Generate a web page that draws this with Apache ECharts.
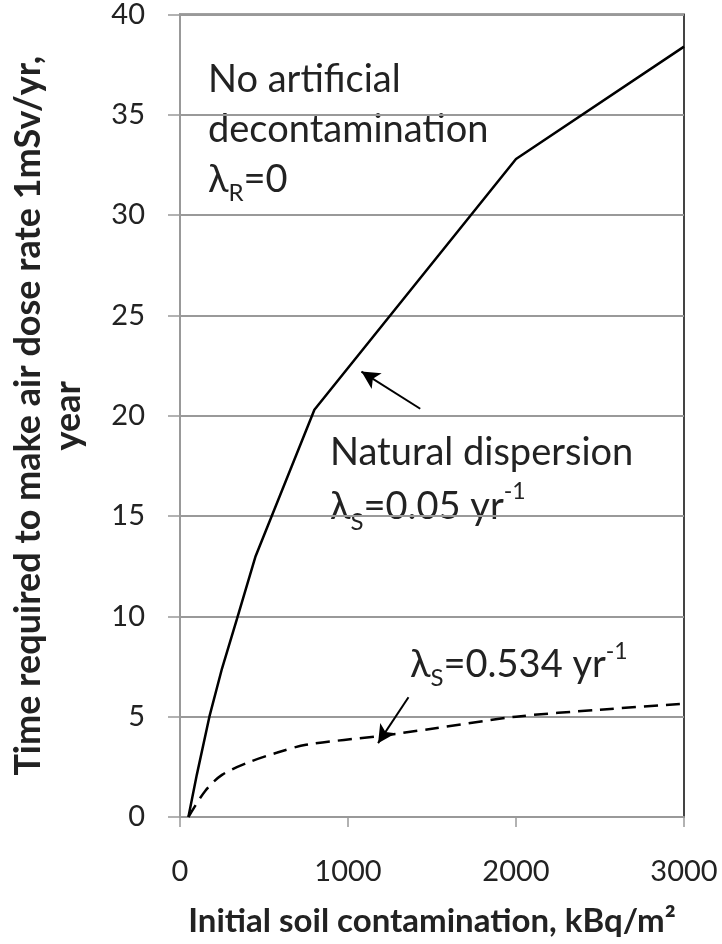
<!DOCTYPE html>
<html>
<head>
<meta charset="utf-8">
<script src="https://cdn.jsdelivr.net/npm/echarts@6/dist/echarts.min.js"></script>
<style>
  html, body { margin: 0; padding: 0; background: #fff; }
  #chart { width: 722px; height: 944px; }
</style>
</head>
<body>
<div id="chart"></div>
<script>
// x = initial soil contamination (kBq/m2), y = years
const naturalX = [50, 100, 175, 250, 340, 450, 800, 2000, 3000];
const naturalY = [0, 2.1, 5.0, 7.4, 9.9, 13.0, 20.3, 32.8, 38.4];

const fastX = [50, 150, 250, 400, 575, 750, 1200, 1500, 2000, 2500, 3000];
const fastY = [0, 1.3, 2.1, 2.7, 3.2, 3.6, 4.05, 4.4, 5.0, 5.35, 5.65];

const xTicks = [0, 1000, 2000, 3000];
const yTicks = [0, 5, 10, 15, 20, 25, 30, 35, 40];

// arrows: [tail, tip] in data units
const arrowNatural = [[1430, 20.35], [1080, 22.2]];
const arrowFast = [[1360, 5.97], [1179, 3.68]];

const FONT = 'Lato';
const TXT = '#222';

function pairs(xs, ys) {
    return xs.map((x, i) => [x, ys[i]]);
}

const chart = echarts.init(document.getElementById('chart'), null, { renderer: 'canvas' });

const richStyles = {
    sub: { fontFamily: FONT, fontSize: 24, lineHeight: 16, verticalAlign: 'bottom', fill: TXT, color: TXT },
    sup: { fontFamily: FONT, fontSize: 23, lineHeight: 26, verticalAlign: 'top', fill: TXT, color: TXT }
};

function note(text, x, y, lh) {
    return {
        type: 'text',
        x: x,
        y: y,
        style: {
            text: text,
            fontFamily: FONT,
            fontSize: 38,
            lineHeight: lh,
            fill: TXT,
            verticalAlign: 'top',
            align: 'left',
            rich: richStyles
        }
    };
}

chart.setOption({
    animation: false,
    backgroundColor: '#fff',
    grid: {
        left: 170, right: 38, top: 13, bottom: 127,
        show: true, borderColor: '#444', borderWidth: 2, backgroundColor: 'transparent'
    },
    xAxis: {
        type: 'value',
        min: xTicks[0], max: xTicks[xTicks.length - 1], interval: 1000,
        name: 'Initial soil contamination, kBq/m²',
        nameLocation: 'middle',
        nameGap: 88,
        nameTextStyle: { fontFamily: FONT, fontWeight: 'bold', fontSize: 33, color: TXT },
        axisLine: { show: true, lineStyle: { color: '#999', width: 2 } },
        axisTick: { show: true, inside: false, length: 10, lineStyle: { color: '#999', width: 1.5 } },
        axisLabel: {
            margin: 40, fontFamily: FONT, fontSize: 29, color: TXT,
            formatter: v => String(v)
        },
        splitLine: { show: false }
    },
    yAxis: {
        type: 'value',
        min: yTicks[0], max: yTicks[yTicks.length - 1], interval: 5,
        name: 'Time required to make air dose rate 1mSv/yr,\nyear',
        nameLocation: 'middle',
        nameGap: 92,
        nameRotate: 90,
        nameTextStyle: { fontFamily: FONT, fontWeight: 'bold', fontSize: 36, lineHeight: 40, color: TXT },
        axisLine: { show: true, lineStyle: { color: '#999', width: 2 } },
        axisTick: { show: true, inside: false, length: 12, lineStyle: { color: '#999', width: 1.5 } },
        axisLabel: { margin: 35, fontFamily: FONT, fontSize: 29, color: TXT },
        splitLine: { show: true, lineStyle: { color: '#999', width: 2 } }
    },
    series: [
        {
            type: 'line',
            data: pairs(naturalX, naturalY),
            showSymbol: false,
            smooth: false,
            lineStyle: { color: '#000', width: 2.5 },
            markLine: {
                silent: true,
                symbol: ['none', 'arrow'],
                symbolSize: [14, 18],
                label: { show: false },
                lineStyle: { color: '#000', width: 2, type: 'solid' },
                data: [[{ coord: arrowNatural[0] }, { coord: arrowNatural[1] }]]
            }
        },
        {
            type: 'line',
            data: pairs(fastX, fastY),
            showSymbol: false,
            smooth: 0.3,
            lineStyle: { color: '#000', width: 2.5, type: [14, 8] },
            markLine: {
                silent: true,
                symbol: ['none', 'arrow'],
                symbolSize: [14, 18],
                label: { show: false },
                lineStyle: { color: '#000', width: 2, type: 'solid' },
                data: [[{ coord: arrowFast[0] }, { coord: arrowFast[1] }]]
            }
        }
    ],
    graphic: [
        note('No artificial\ndecontamination\nλ{sub|R}=0', 208, 55, 50),
        note('Natural dispersion\nλ{sub|S}=0.05 yr{sup|-1}', 330, 426, 54),
        note('λ{sub|S}=0.534 yr{sup|-1}', 410, 640, 50)
    ]
});
</script>
</body>
</html>
